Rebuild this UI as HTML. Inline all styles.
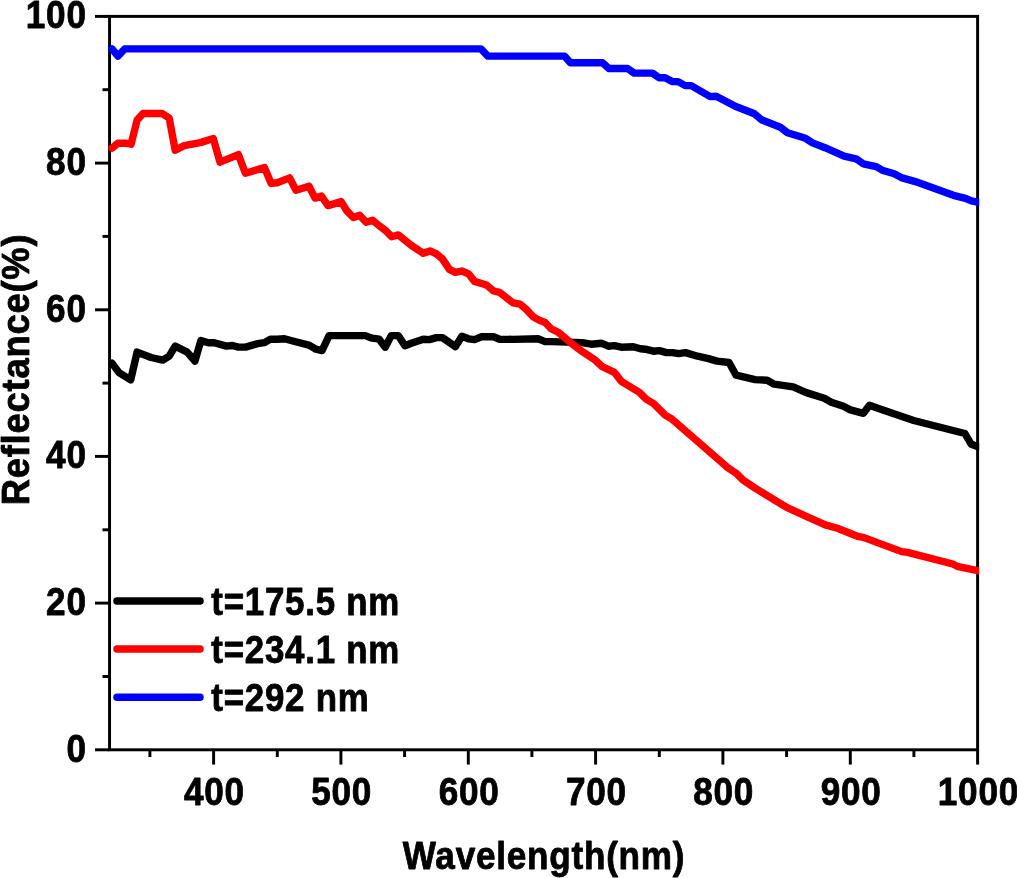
<!DOCTYPE html>
<html lang="en"><head><meta charset="utf-8"><title>Reflectance vs Wavelength</title>
<style>html,body{margin:0;padding:0;background:#fff;}body{width:1017px;height:878px;overflow:hidden;}svg{display:block;}text{font-family:"Liberation Sans",Arial,Helvetica,sans-serif;font-weight:bold;fill:#000;}</style></head><body>
<svg width="1017" height="878" viewBox="0 0 1017 878">
<rect width="1017" height="878" fill="#fff"/>
<g stroke="#000" stroke-width="2.95" fill="none" stroke-linecap="butt">
<rect x="109.55" y="16.40" width="868.05" height="733.40"/>
<line x1="95.0" y1="749.8" x2="109.5" y2="749.8"/>
<line x1="95.0" y1="603.1" x2="109.5" y2="603.1"/>
<line x1="95.0" y1="456.4" x2="109.5" y2="456.4"/>
<line x1="95.0" y1="309.8" x2="109.5" y2="309.8"/>
<line x1="95.0" y1="163.1" x2="109.5" y2="163.1"/>
<line x1="95.0" y1="16.4" x2="109.5" y2="16.4"/>
<line x1="102.5" y1="676.5" x2="109.5" y2="676.5"/>
<line x1="102.5" y1="529.8" x2="109.5" y2="529.8"/>
<line x1="102.5" y1="383.1" x2="109.5" y2="383.1"/>
<line x1="102.5" y1="236.4" x2="109.5" y2="236.4"/>
<line x1="102.5" y1="89.7" x2="109.5" y2="89.7"/>
<line x1="213.6" y1="749.8" x2="213.6" y2="764.6"/>
<line x1="340.9" y1="749.8" x2="340.9" y2="764.6"/>
<line x1="468.3" y1="749.8" x2="468.3" y2="764.6"/>
<line x1="595.6" y1="749.8" x2="595.6" y2="764.6"/>
<line x1="722.9" y1="749.8" x2="722.9" y2="764.6"/>
<line x1="850.3" y1="749.8" x2="850.3" y2="764.6"/>
<line x1="977.6" y1="749.8" x2="977.6" y2="764.6"/>
<line x1="149.9" y1="749.8" x2="149.9" y2="757.0"/>
<line x1="277.3" y1="749.8" x2="277.3" y2="757.0"/>
<line x1="404.6" y1="749.8" x2="404.6" y2="757.0"/>
<line x1="531.9" y1="749.8" x2="531.9" y2="757.0"/>
<line x1="659.3" y1="749.8" x2="659.3" y2="757.0"/>
<line x1="786.6" y1="749.8" x2="786.6" y2="757.0"/>
<line x1="913.9" y1="749.8" x2="913.9" y2="757.0"/>
</g>
<defs><clipPath id="c"><rect x="108" y="10" width="871.2" height="745"/></clipPath></defs>
<g clip-path="url(#c)" fill="none" stroke-width="7.4" stroke-linejoin="round" stroke-linecap="round">
<polyline stroke="#000" points="112.0,363.1 119.0,372.6 130.7,379.8 137.1,352.1 151.1,357.5 162.8,360.1 169.2,356.1 175.2,346.1 187.2,352.1 194.9,361.1 200.9,340.5 208.3,342.7 214.3,342.7 226.4,346.1 232.4,345.5 238.4,347.1 245.4,347.1 257.5,343.7 264.5,342.7 270.5,339.1 277.5,339.3 284.5,338.7 295.6,341.7 309.0,345.1 316.0,349.2 322.0,350.6 329.1,335.6 365.2,335.6 372.2,338.2 379.2,339.2 385.2,347.2 391.2,335.6 398.3,335.6 404.9,345.8 411.3,343.2 423.3,339.2 429.4,339.6 436.4,337.6 442.4,337.6 455.4,346.6 461.9,336.2 468.5,338.8 474.5,339.6 481.5,336.8 493.6,336.8 499.6,339.2 513.0,339.4 538.1,338.8 545.1,341.6 552.1,341.6 582.2,342.6 591.2,344.2 601.3,343.2 608.3,346.2 614.3,345.6 621.3,347.2 633.4,346.8 640.4,348.8 645.4,349.2 653.4,351.2 659.4,350.6 666.5,352.6 672.5,352.6 678.5,353.6 685.5,352.6 697.6,356.2 708.6,358.6 717.0,361.1 729.0,362.5 736.1,375.2 755.1,379.6 767.2,380.2 774.2,384.2 793.2,386.8 806.3,392.6 824.3,398.2 831.3,402.2 843.4,406.3 850.4,409.9 863.4,413.3 869.5,405.3 880.0,409.0 913.7,420.5 964.9,433.5 971.0,444.0 977.6,446.7 984.0,447.0"/>
<polyline stroke="#f00" points="112.0,148.2 118.0,143.2 125.1,143.2 131.1,144.2 137.1,120.1 143.1,113.5 162.2,113.5 169.2,118.1 175.2,150.2 184.2,145.6 200.3,142.6 213.3,138.5 220.0,162.2 238.4,154.6 245.4,173.2 264.5,167.6 271.1,183.3 277.1,182.7 289.6,177.9 296.0,190.3 309.0,186.2 315.0,198.1 321.4,196.1 328.1,205.6 341.1,201.6 347.1,211.2 353.5,217.6 359.6,215.2 366.2,222.2 372.6,220.2 379.2,225.8 385.2,230.2 391.6,236.7 398.3,234.9 411.3,245.3 423.3,253.3 430.0,250.9 436.4,253.9 442.4,258.9 449.4,269.4 455.4,272.4 461.9,271.0 468.5,273.8 474.5,281.4 486.5,285.0 493.6,291.0 499.6,292.4 513.0,302.8 520.0,304.1 526.0,309.1 533.1,316.7 539.1,320.1 545.1,322.5 551.1,328.7 558.1,332.2 571.2,343.2 583.2,352.2 595.3,360.2 602.3,366.7 614.3,372.3 621.3,381.3 639.4,392.3 646.4,399.4 653.4,403.4 665.5,415.4 671.5,418.8 717.0,458.2 727.0,467.1 736.1,473.2 743.1,480.2 755.1,488.2 787.2,507.7 806.3,516.3 825.3,524.9 837.4,528.3 857.4,536.3 863.4,537.4 901.6,551.6 907.6,552.4 952.8,564.0 958.2,566.7 979.0,570.8 984.0,572.0"/>
<polyline stroke="#00f" points="112.0,48.8 118.0,56.1 124.7,48.9 481.1,48.9 487.7,56.1 564.4,56.1 570.4,62.7 602.5,62.7 608.9,68.5 627.6,68.5 634.2,73.1 652.5,73.1 659.1,77.7 665.1,77.7 672.1,81.6 678.1,81.6 685.2,85.6 691.2,85.6 710.2,96.6 716.2,96.2 735.3,106.2 754.4,113.7 761.4,119.7 780.4,127.3 787.5,132.7 805.5,138.3 812.5,142.9 825.0,147.7 844.1,156.2 856.1,158.8 863.2,163.8 876.2,166.6 882.2,170.2 894.2,173.8 901.3,177.6 915.3,181.6 953.4,195.3 965.5,198.3 971.5,200.9 978.5,202.3 984.0,203.4"/>
</g>
<g fill="none" stroke-width="7.5" stroke-linecap="round">
<line stroke="#000" x1="117" y1="600.9" x2="200" y2="600.9"/>
<line stroke="#f00" x1="117" y1="649.1" x2="200" y2="649.1"/>
<line stroke="#00f" x1="117" y1="697.3" x2="200" y2="697.3"/>
</g>
<g stroke="#000" stroke-width="0.80" stroke-linejoin="round" letter-spacing="0.80">
<text transform="translate(211.3,614.8) scale(0.940,1.050)" font-size="37.1" text-anchor="start">t=175.5 nm</text>
<text transform="translate(211.3,663.0) scale(0.940,1.050)" font-size="37.1" text-anchor="start">t=234.1 nm</text>
<text transform="translate(211.3,711.1) scale(0.940,1.050)" font-size="37.1" text-anchor="start">t=292 nm</text>
<text transform="translate(86.7,761.5) scale(0.940,1.050)" font-size="37.4" text-anchor="end">0</text>
<text transform="translate(86.7,614.8) scale(0.940,1.050)" font-size="37.4" text-anchor="end">20</text>
<text transform="translate(86.7,468.1) scale(0.940,1.050)" font-size="37.4" text-anchor="end">40</text>
<text transform="translate(86.7,321.5) scale(0.940,1.050)" font-size="37.4" text-anchor="end">60</text>
<text transform="translate(86.7,174.8) scale(0.940,1.050)" font-size="37.4" text-anchor="end">80</text>
<text transform="translate(86.7,28.1) scale(0.940,1.050)" font-size="37.4" text-anchor="end">100</text>
<text transform="translate(214.4,805.0) scale(0.940,1.050)" font-size="37.4" text-anchor="middle">400</text>
<text transform="translate(341.7,805.0) scale(0.940,1.050)" font-size="37.4" text-anchor="middle">500</text>
<text transform="translate(469.1,805.0) scale(0.940,1.050)" font-size="37.4" text-anchor="middle">600</text>
<text transform="translate(596.4,805.0) scale(0.940,1.050)" font-size="37.4" text-anchor="middle">700</text>
<text transform="translate(723.7,805.0) scale(0.940,1.050)" font-size="37.4" text-anchor="middle">800</text>
<text transform="translate(851.1,805.0) scale(0.940,1.050)" font-size="37.4" text-anchor="middle">900</text>
<text transform="translate(978.4,805.0) scale(0.940,1.050)" font-size="37.4" text-anchor="middle">1000</text>
<text transform="translate(544.0,868.7) scale(0.940,1.050)" font-size="37.4" text-anchor="middle">Wavelength(nm)</text>
<text transform="translate(28.7,369.5) rotate(-90) scale(0.973,1.050)" font-size="37.4" text-anchor="middle">Reflectance(%)</text>
</g>
</svg></body></html>
